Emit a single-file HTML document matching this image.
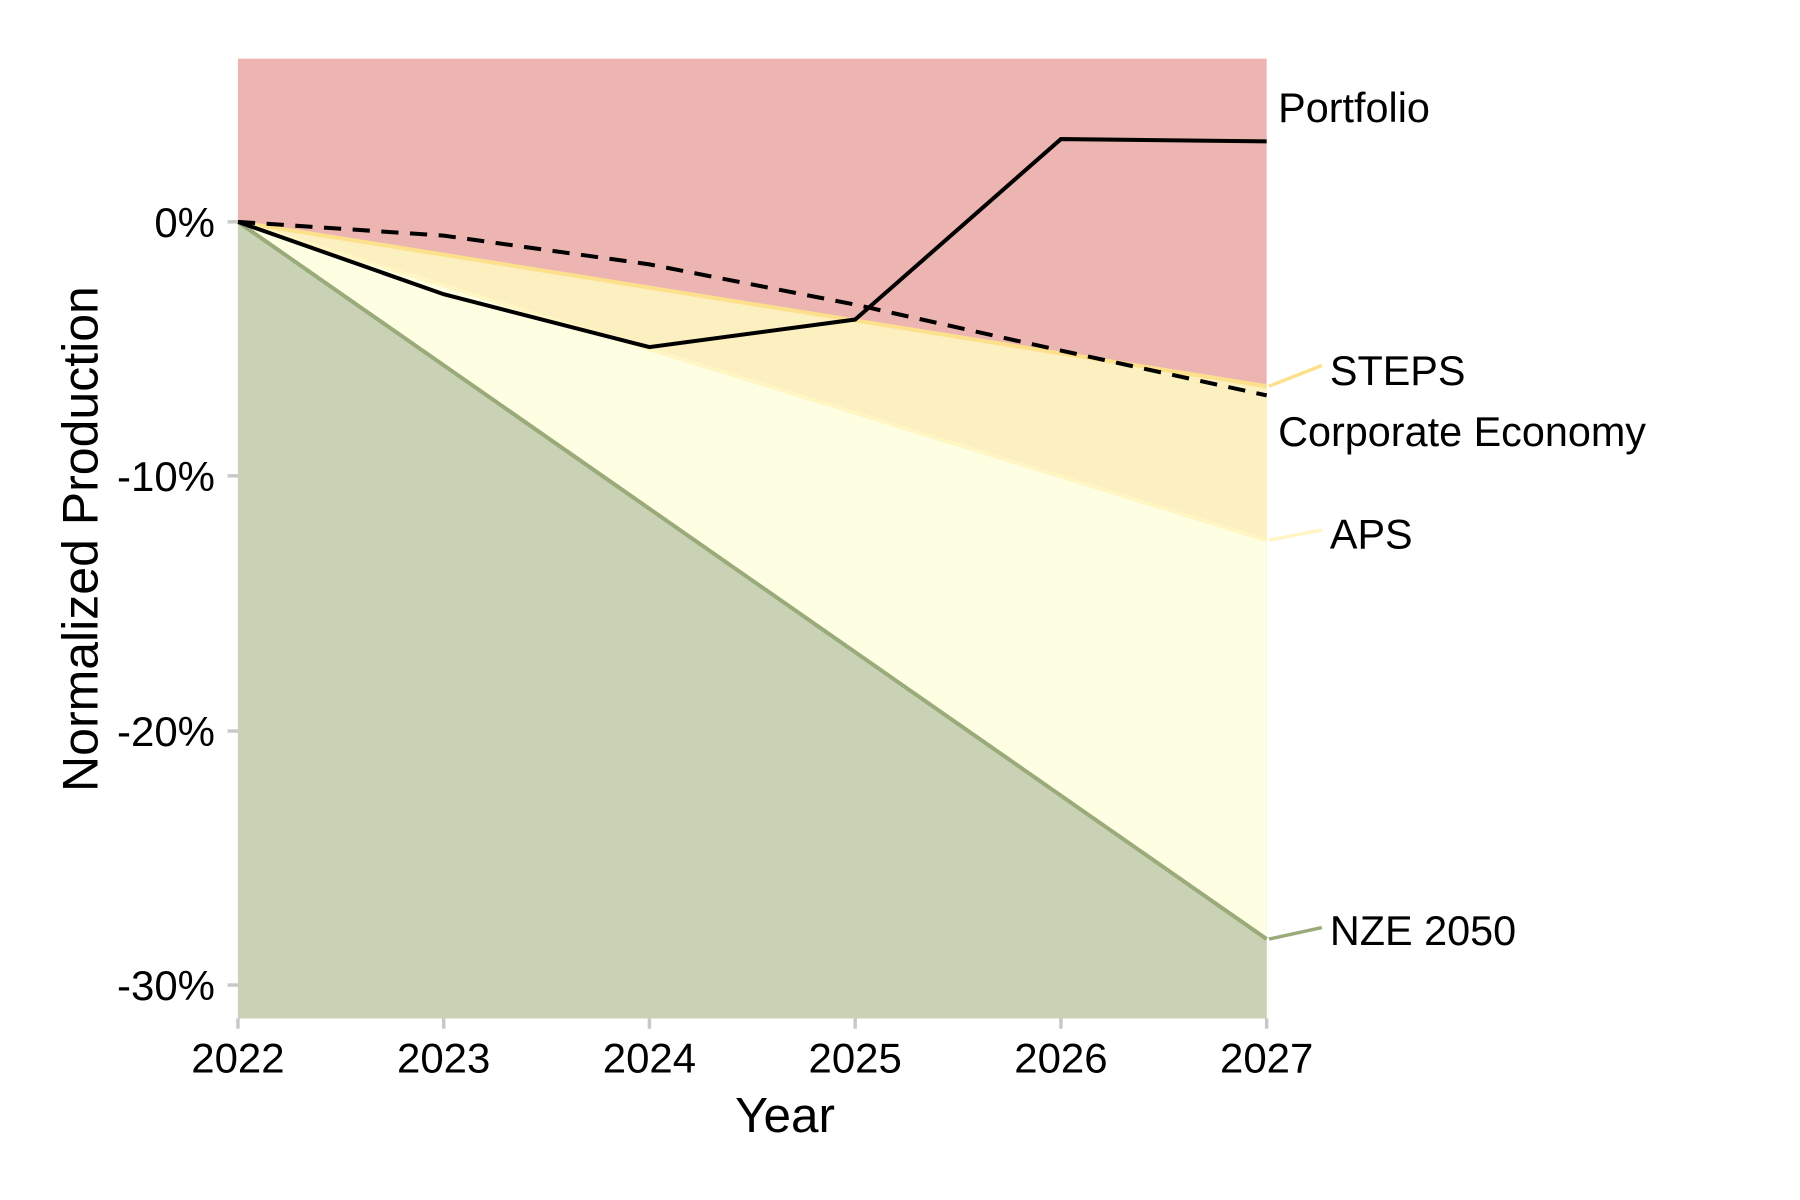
<!DOCTYPE html>
<html><head><meta charset="utf-8"><style>html,body{margin:0;padding:0;background:#fff}svg{display:block}text{font-family:"Liberation Sans",sans-serif;fill:#000}</style></head>
<body>
<svg width="1800" height="1200" viewBox="0 0 1566 1044" preserveAspectRatio="none" xmlns="http://www.w3.org/2000/svg">
<rect x="207" y="51" width="895" height="835" fill="#edb5b2"/>
<polygon points="207,193 1102,336 1102,470" fill="#fcefc0"/>
<polygon points="207,193 1102,470 1102,817" fill="#fefee3"/>
<polygon points="207,193 1102,817 1102,886 207,886" fill="#c9d2b5"/>
<line x1="207" y1="193" x2="1102" y2="336" stroke="#fde08c" stroke-width="3.5"/>
<line x1="207" y1="193" x2="1102" y2="470" stroke="#fff6c4" stroke-width="3.5"/>
<line x1="207" y1="193" x2="1102" y2="817" stroke="#9aab79" stroke-width="3.5"/>
<polyline points="207,193 386,205 565,230 744,265 923,305 1102,344" fill="none" stroke="#000" stroke-width="3.5" stroke-dasharray="15,10"/>
<polyline points="207,193 386,256 565,302 744,278 923,121 1102,123" fill="none" stroke="#000" stroke-width="3.5"/>
<line x1="1104" y1="336" x2="1150" y2="318" stroke="#fde08c" stroke-width="3"/>
<line x1="1104" y1="470" x2="1150" y2="461" stroke="#fff6c4" stroke-width="3"/>
<line x1="1104" y1="817" x2="1150" y2="807" stroke="#9aab79" stroke-width="3"/>
<g font-size="36">
<text x="1112" y="106">Portfolio</text>
<text x="1157" y="335">STEPS</text>
<text x="1112" y="388">Corporate Economy</text>
<text x="1157" y="477">APS</text>
<text x="1157" y="822">NZE 2050</text>
</g>
<g stroke="#c8c8c8" stroke-width="3">
<line x1="198" y1="193" x2="207" y2="193"/><line x1="198" y1="414" x2="207" y2="414"/>
<line x1="198" y1="636" x2="207" y2="636"/><line x1="198" y1="857" x2="207" y2="857"/>
<line x1="207" y1="886" x2="207" y2="895"/><line x1="386" y1="886" x2="386" y2="895"/>
<line x1="565" y1="886" x2="565" y2="895"/><line x1="744" y1="886" x2="744" y2="895"/>
<line x1="923" y1="886" x2="923" y2="895"/><line x1="1102" y1="886" x2="1102" y2="895"/>
</g>
<g font-size="36.5" text-anchor="end">
<text x="187" y="206">0%</text><text x="187" y="427">-10%</text>
<text x="187" y="649">-20%</text><text x="187" y="870">-30%</text>
</g>
<g font-size="36.5" text-anchor="middle">
<text x="207" y="933">2022</text><text x="386" y="933">2023</text><text x="565" y="933">2024</text>
<text x="744" y="933">2025</text><text x="923" y="933">2026</text><text x="1102" y="933">2027</text>
</g>
<text x="683" y="985" font-size="43" text-anchor="middle">Year</text>
<text transform="translate(85,469) rotate(-90)" font-size="43.5" text-anchor="middle">Normalized Production</text>
</svg>
</body></html>
